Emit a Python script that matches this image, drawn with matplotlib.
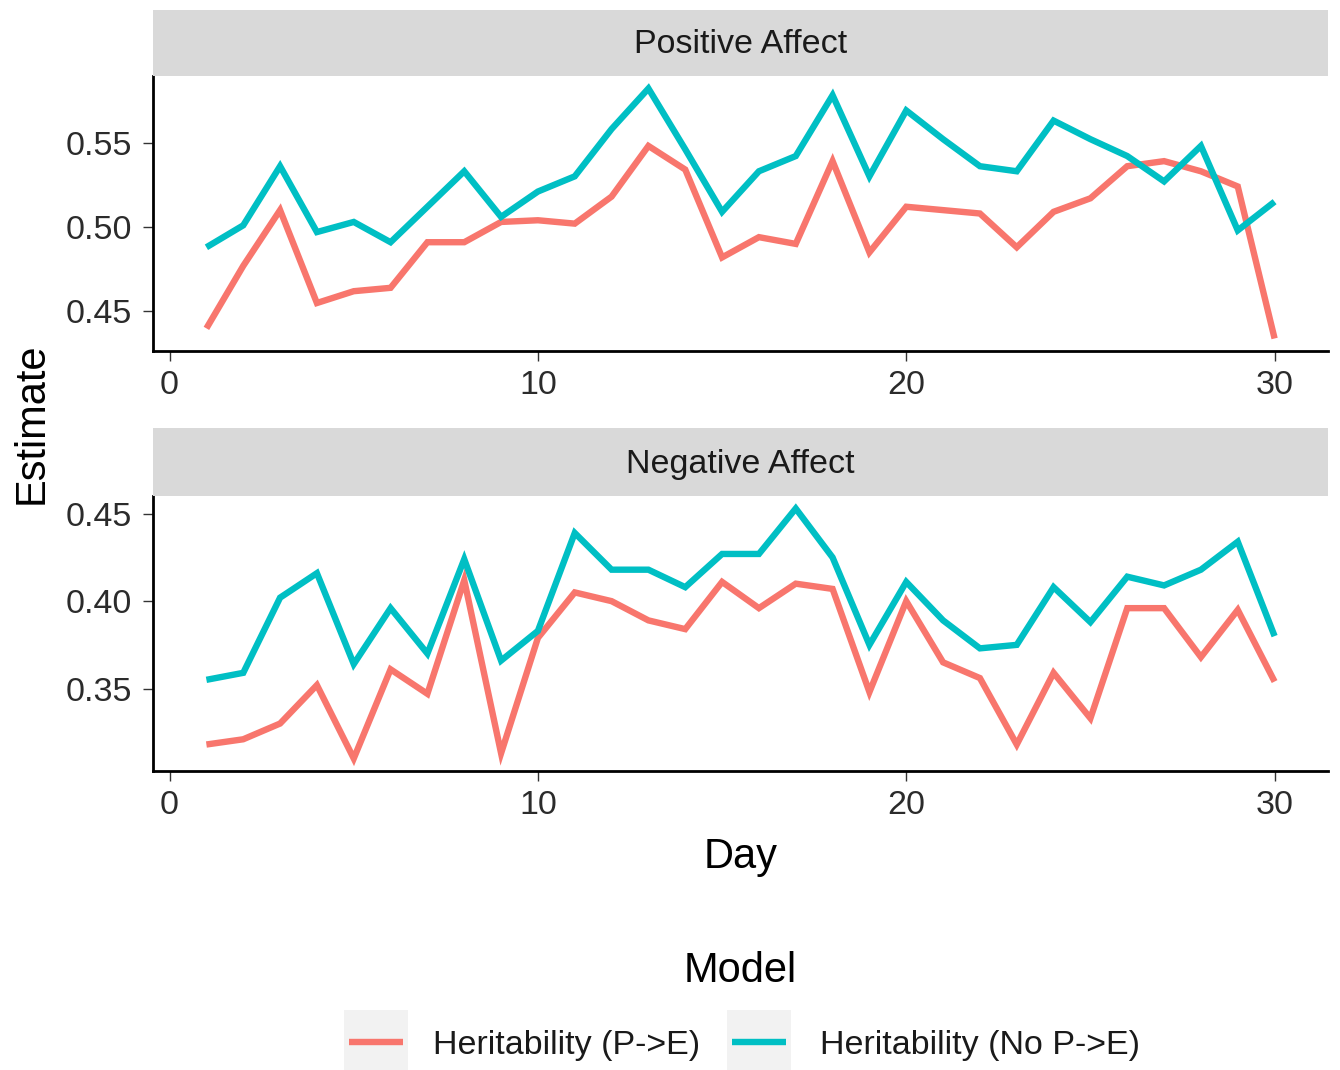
import matplotlib
matplotlib.use("Agg")
import matplotlib.pyplot as plt
from matplotlib.patches import Rectangle
from matplotlib.lines import Line2D

plt.rcParams['font.family'] = ['Liberation Sans', 'DejaVu Sans']

days = list(range(1, 31))

pos_pe = [0.440, 0.477, 0.510, 0.455, 0.462, 0.464, 0.491, 0.491, 0.503, 0.504,
          0.502, 0.518, 0.548, 0.534, 0.482, 0.494, 0.490, 0.539, 0.485, 0.512,
          0.510, 0.508, 0.488, 0.509, 0.517, 0.536, 0.539, 0.533, 0.524, 0.434]
pos_nope = [0.488, 0.501, 0.536, 0.497, 0.503, 0.491, 0.512, 0.533, 0.506, 0.521,
            0.530, 0.558, 0.582, 0.546, 0.509, 0.533, 0.542, 0.578, 0.530, 0.569,
            0.552, 0.536, 0.533, 0.563, 0.552, 0.542, 0.527, 0.548, 0.498, 0.515]

neg_pe = [0.318, 0.321, 0.330, 0.352, 0.310, 0.361, 0.347, 0.412, 0.313, 0.379,
          0.405, 0.400, 0.389, 0.384, 0.411, 0.396, 0.410, 0.407, 0.348, 0.400,
          0.365, 0.356, 0.318, 0.359, 0.333, 0.396, 0.396, 0.368, 0.395, 0.354]
neg_nope = [0.355, 0.359, 0.402, 0.416, 0.364, 0.396, 0.370, 0.424, 0.366, 0.383,
            0.439, 0.418, 0.418, 0.408, 0.427, 0.427, 0.453, 0.425, 0.375, 0.411,
            0.389, 0.373, 0.375, 0.408, 0.388, 0.414, 0.409, 0.418, 0.434, 0.380]

panels = ["Positive Affect", "Negative Affect"]
series_labels = ["Heritability (P->E)", "Heritability (No P->E)"]
colors = ["#F8766D", "#00BFC4"]
x_ticks = [0, 10, 20, 30]
pos_yticks = [0.45, 0.50, 0.55]
neg_yticks = [0.35, 0.40, 0.45]

W, H = 1340, 1070
fig = plt.figure(figsize=(W / 100, H / 100), dpi=100)
LW = 4.6


def fx(px):
    return px / W


def fy(py):
    return 1 - py / H


def add_panel(top, bottom, strip_top, title, s1, s2, yticks):
    left, right = 153, 1328
    ax = fig.add_axes([fx(left), fy(bottom), fx(right - left), (bottom - top) / H])
    ax.plot(days, s1, color=colors[0], lw=LW, solid_capstyle='butt', solid_joinstyle='miter')
    ax.plot(days, s2, color=colors[1], lw=LW, solid_capstyle='butt', solid_joinstyle='miter')
    ymin = min(min(s1), min(s2))
    ymax = max(max(s1), max(s2))
    r = ymax - ymin
    ax.set_ylim(ymin - 0.05 * r, ymax + 0.05 * r)
    ax.set_xlim(1 - 0.05 * 29, 30 + 0.05 * 29)
    ax.set_xticks(x_ticks)
    ax.set_yticks(yticks)
    ax.set_yticklabels([f"{v:.2f}" for v in yticks])
    for s in ['top', 'right']:
        ax.spines[s].set_visible(False)
    for s in ['left', 'bottom']:
        ax.spines[s].set_linewidth(2.0)
        ax.spines[s].set_color('black')
    ax.tick_params(axis='both', length=7, width=1.0, color='#333333',
                   labelsize=24.5, labelcolor='#2b2b2b')
    ax.tick_params(axis='y', pad=8)
    ax.tick_params(axis='x', pad=7)
    # strip
    sax = fig.add_axes([fx(left), fy(top), fx(right - left), (top - strip_top) / H])
    sax.set_facecolor('#D9D9D9')
    sax.set_xticks([])
    sax.set_yticks([])
    for s in sax.spines.values():
        s.set_visible(False)
    sax.text(0.5, 0.47, title, transform=sax.transAxes, ha='center', va='center',
             fontsize=24.5, color='#1a1a1a')
    return ax


add_panel(76, 351, 10, panels[0], pos_pe, pos_nope, pos_yticks)
add_panel(496, 771, 428, panels[1], neg_pe, neg_nope, neg_yticks)

fig.text(fx(32), fy(423), "Estimate", rotation=90, ha='center', va='center',
         fontsize=30, color='black')
fig.text(fx(740.5), fy(868), "Day", ha='center', va='baseline', fontsize=30, color='black')
fig.text(fx(740.5), fy(982), "Model", ha='center', va='baseline', fontsize=30, color='black')

# legend (manual, ggplot-style key backgrounds)
key_specs = [(344, 408, 433), (727, 791, 820)]
for (kx0, kx1, tx), lab, col in zip(key_specs, series_labels, colors):
    fig.patches.append(Rectangle((fx(kx0), fy(1074)), fx(kx1 - kx0), (1074 - 1010) / H,
                                 transform=fig.transFigure, facecolor='#F2F2F2',
                                 edgecolor='none'))
    fig.lines.append(Line2D([fx(kx0 + 5), fx(kx1 - 5)], [fy(1042), fy(1042)],
                            transform=fig.transFigure, color=col, lw=LW,
                            solid_capstyle='butt'))
    fig.text(fx(tx), fy(1054), lab, ha='left', va='baseline', fontsize=24.5, color='#1a1a1a')

fig.savefig("out.png", dpi=100, facecolor='white')
